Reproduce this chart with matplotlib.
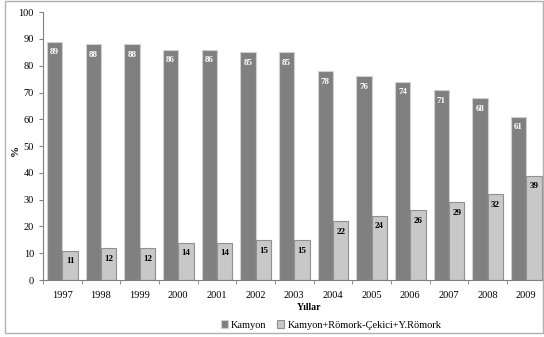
import matplotlib
matplotlib.use("Agg")
import matplotlib.pyplot as plt
import numpy as np
from matplotlib.patches import Rectangle

years = ["1997","1998","1999","2000","2001","2002","2003","2004","2005","2006","2007","2008","2009"]
kamyon = [89, 88, 88, 86, 86, 85, 85, 78, 76, 74, 71, 68, 61]
combo = [11, 12, 12, 14, 14, 15, 15, 22, 24, 26, 29, 32, 39]

plt.rcParams['font.family'] = ['Liberation Serif', 'DejaVu Serif']
fig = plt.figure(figsize=(5.44, 3.37), dpi=100)
ax = fig.add_axes([0.079, 0.169, 0.924, 0.795])

x = np.arange(len(years))
w = 0.40
b1 = ax.bar(x - w/2, kamyon, w, color='#808080', edgecolor='#d0d0d0', linewidth=0.8, label='Kamyon')
b2 = ax.bar(x + w/2, combo, w, color='#c8c8c8', edgecolor='#909090', linewidth=0.8, label='Kamyon+Römork-Çekici+Y.Römork')

for xi, v in zip(x, kamyon):
    ax.text(xi - w/2, v - 2.5, str(v), ha='center', va='top', color='white', fontsize=6.5, fontweight='bold')
for xi, v in zip(x, combo):
    ax.text(xi + w/2, v - 2.5, str(v), ha='center', va='top', color='black', fontsize=6.5, fontweight='bold')

ax.set_ylim(0, 100)
ax.set_yticks(range(0, 101, 10))
ax.set_xlim(-0.5, len(years) - 0.5)
ax.set_xticks(x)
ax.set_xticklabels(years)
ax.set_xticks(np.arange(-0.5, len(years), 1.0), minor=True)
ax.tick_params(axis='both', labelsize=7.5, length=3, color='#808080')
ax.tick_params(axis='x', which='major', length=0, pad=8)
ax.tick_params(axis='x', which='minor', length=3, color='#808080')
for s in ['top', 'right']:
    ax.spines[s].set_visible(False)
ax.spines['left'].set_color('#808080')
ax.spines['bottom'].set_color('#808080')
fig.text(15/544, 1 - 150/337, '%', rotation=90, ha='center', va='center', fontsize=8, fontweight='bold')
fig.text(309/544, 1 - 308/337, 'Yıllar', ha='center', va='center', fontsize=7, fontweight='bold')

fig.legend(handles=[b1, b2], loc='center', bbox_to_anchor=(331/544, 1 - 325/337), ncol=2, frameon=False,
           fontsize=7.5, handlelength=0.7, handleheight=0.7, columnspacing=1.0, handletextpad=0.3,
           borderpad=0, borderaxespad=0)

fig.patches.append(Rectangle((0.009, 0.012), 0.99, 0.985, transform=fig.transFigure,
                             fill=False, edgecolor='#b0b0b0', linewidth=1.0))
fig.savefig('out.png', dpi=100)
